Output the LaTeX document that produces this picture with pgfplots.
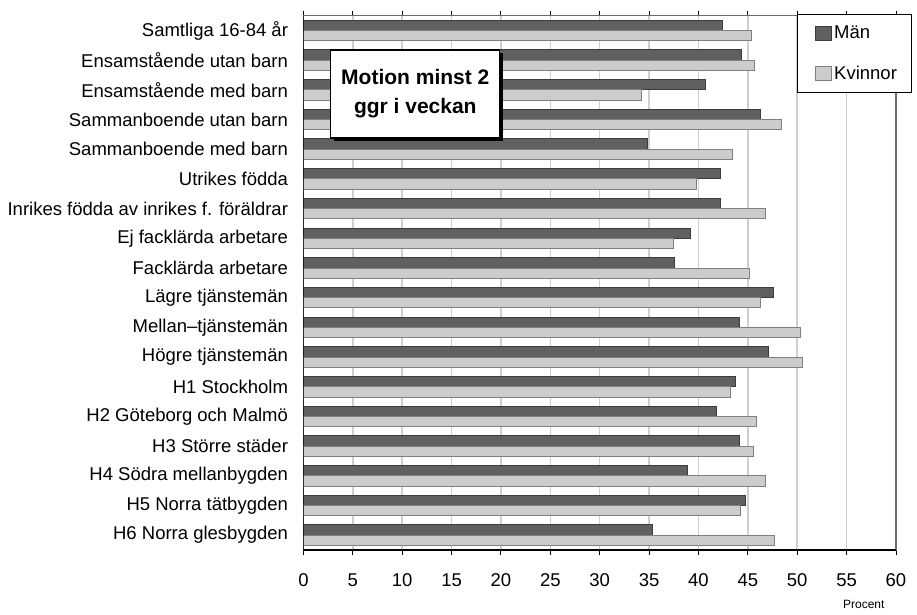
\documentclass[border=0pt]{standalone}
\usepackage{fontspec}
\setmainfont{Liberation Sans}
\usepackage{pgfplots}
\pgfplotsset{compat=1.18}
\usetikzlibrary{shadows}
\definecolor{manfill}{HTML}{606060}
\definecolor{mandraw}{HTML}{3C3C3C}
\definecolor{kvfill}{HTML}{CCCCCC}
\definecolor{kvdraw}{HTML}{808080}
\definecolor{gridc}{HTML}{CFCFCF}
\definecolor{framec}{HTML}{6E6E6E}
\pgfplotstableread{
y man kv
17 42.4 45.4
16 44.4 45.7
15 40.7 34.2
14 46.3 48.4
13 34.8 43.4
12 42.2 39.8
11 42.2 46.8
10 39.2 37.5
9 37.6 45.2
8 47.6 46.3
7 44.2 50.3
6 47.1 50.5
5 43.7 43.2
4 41.8 45.9
3 44.2 45.6
2 38.9 46.8
1 44.8 44.3
0 35.3 47.7
}\data
\begin{document}
\begin{tikzpicture}
\useasboundingbox (-303.5pt,-64pt) rectangle (613.5pt,550pt);
\begin{axis}[
 scale only axis, width=592.5pt, height=534.3pt,
 xbar, bar width=10.3pt,
 xmin=0, xmax=60, xtick={0,5,...,60},
 ymin=-0.5, ymax=17.5, ytick={0,...,17},
 yticklabels={
  {H6 Norra glesbygden\hspace{4pt}},
  {H5 Norra tätbygden\hspace{4pt}},
  {H4 Södra mellanbygden},
  {H3 Större städer\hspace{3pt}},
  {H2 Göteborg och Malmö},
  {H1 Stockholm\hspace{4pt}},
  {Högre tjänstemän\hspace{4pt}},
  {Mellan–tjänstemän},
  {Lägre tjänstemän\hspace{4pt}},
  {Facklärda arbetare},
  {Ej facklärda arbetare},
  {Inrikes födda av inrikes f. föräldrar\hspace{4pt}},
  {Utrikes födda\hspace{4pt}},
  {Sammanboende med barn\hspace{2.5pt}},
  {Sammanboende utan barn},
  {Ensamstående med barn\hspace{3.5pt}},
  {Ensamstående utan barn},
  {Samtliga 16-84 år\hspace{8pt}}},
 y tick style={draw=none},
 xmajorgrids, grid style={gridc, line width=1.5pt},
 tick align=outside, major tick length=5pt,
 x tick style={black, line width=1pt},
 axis line style={draw=framec, line width=1.2pt},
 tick label style={font=\fontsize{18.5}{21}\selectfont},
 /pgf/number format/assume math mode=true,
 yticklabel style={xshift=-7pt},
 xticklabel style={yshift=-15pt},
 xlabel={Procent},
 x label style={at={(axis description cs:0.9865,-0.101)}, anchor=east, font=\fontsize{12}{14}\selectfont},
 legend style={at={(axis description cs:1.0259,1.0032)}, anchor=north east, draw=black, line width=0.8pt, font=\fontsize{18.5}{21}\selectfont, row sep=21.5pt, inner xsep=12pt, inner ysep=9.5pt, fill=white},
 legend cell align=left,
 legend image code/.code={\path (0pt,0pt); \draw[#1, line width=1pt] (6pt,-7pt) rectangle (22pt,7pt);},
]
\addplot[fill=manfill, draw=mandraw, line width=1pt, bar shift=5.15pt] table[x=man,y=y]{\data};
\addplot[fill=kvfill, draw=kvdraw, line width=1pt, bar shift=-5.15pt] table[x=kv,y=y]{\data};
\legend{Män, Kvinnor}
\draw[black, line width=1.5pt] (rel axis cs:0,1) -- (rel axis cs:0,0) -- (rel axis cs:1,0);
\node[draw=black, line width=1.2pt, fill=white, drop shadow={shadow xshift=3pt, shadow yshift=-3pt, fill=black, opacity=1}, minimum width=169pt, minimum height=88pt, align=center, font=\bfseries\fontsize{21}{29}\selectfont] at (rel axis cs:0.1887,0.8535) {Motion minst 2\\ggr i veckan};
\end{axis}
\end{tikzpicture}
\end{document}
